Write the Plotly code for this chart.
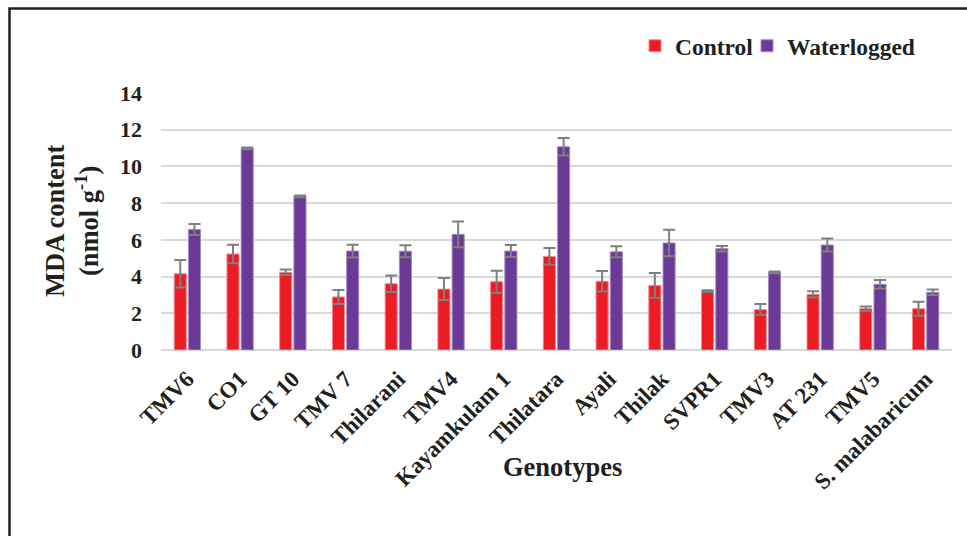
import plotly.graph_objects as go

# MDA content (nmol g-1) of sesame genotypes under control and waterlogged conditions
genotypes = ["TMV6", "CO1", "GT 10", "TMV 7", "Thilarani", "TMV4", "Kayamkulam 1",
             "Thilatara", "Ayali", "Thilak", "SVPR1", "TMV3", "AT 231", "TMV5",
             "S. malabaricum"]
control = [4.15, 5.23, 4.23, 2.89, 3.61, 3.32, 3.72, 5.10, 3.74, 3.52, 3.21, 2.20, 3.03, 2.25, 2.25]
control_err = [0.75, 0.50, 0.15, 0.38, 0.45, 0.60, 0.60, 0.45, 0.56, 0.67, 0.05, 0.30, 0.17, 0.12, 0.38]
waterlogged = [6.57, 10.98, 8.37, 5.39, 5.38, 6.30, 5.39, 11.07, 5.35, 5.83, 5.52, 4.23, 5.72, 3.58, 3.14]
waterlogged_err = [0.30, 0.05, 0.05, 0.35, 0.33, 0.70, 0.33, 0.48, 0.30, 0.72, 0.15, 0.05, 0.36, 0.23, 0.15]
y_ticks = [0, 2, 4, 6, 8, 10, 12, 14]

W, H = 967, 536
ML, MR, MT, MB = 161, 15, 93, 186
PW, PH = W - ML - MR, H - MT - MB


def px_x(px):
    return (px - ML) / PW


def px_y(py):
    return (H - MB - py) / PH


SERIF = "Liberation Serif, Times New Roman, serif"
INK = "#231F20"
ERR = "#7F7F7F"

fig = go.Figure()
fig.add_trace(go.Bar(
    name="Control", x=genotypes, y=control, legend="legend",
    marker=dict(color="#ED1C24", line=dict(color="#F58A8E", width=1)),
    error_y=dict(type="data", array=control_err, visible=True,
                 color=ERR, thickness=2, width=6),
))
fig.add_trace(go.Bar(
    name="Waterlogged", x=genotypes, y=waterlogged, legend="legend2",
    marker=dict(color="#6B3996", line=dict(color="#A68BC4", width=1)),
    error_y=dict(type="data", array=waterlogged_err, visible=True,
                 color=ERR, thickness=2, width=6),
))

legend_style = dict(orientation="h", xanchor="left", yanchor="middle",
                    font=dict(family=SERIF, size=23.5, weight=700, color=INK),
                    bgcolor="rgba(0,0,0,0)", itemwidth=30)

fig.update_layout(
    width=W, height=H,
    margin=dict(l=ML, r=MR, t=MT, b=MB),
    paper_bgcolor="white", plot_bgcolor="white",
    barmode="group", bargap=0.46, bargroupgap=0.15,
    font=dict(family=SERIF, color=INK, size=22, weight=700),
    legend=dict(x=px_x(635), y=px_y(46), **legend_style),
    legend2=dict(x=px_x(747), y=px_y(46), **legend_style),
    showlegend=True,
)

fig.update_xaxes(
    tickangle=-45, showgrid=False, showline=False, zeroline=False,
    tickfont=dict(family=SERIF, size=23, weight=700, color=INK),
    ticklabelstandoff=10,
)
fig.update_yaxes(
    range=[0, 14], tickvals=y_ticks, showgrid=True, gridcolor="#D9D9D9", gridwidth=1.8,
    zeroline=True, zerolinecolor="#D9D9D9", zerolinewidth=1.8, showline=False,
    tickfont=dict(family=SERIF, size=22, weight=700, color=INK),
    ticklabelstandoff=18,
)

# Axis titles
fig.add_annotation(
    text="MDA content<br>(nmol g<sup>-1</sup>)", textangle=-90,
    xref="paper", yref="paper", x=px_x(72), y=px_y(221),
    xanchor="center", yanchor="middle", showarrow=False,
    font=dict(family=SERIF, size=26.5, weight=700, color=INK),
)
fig.add_annotation(
    text="Genotypes", xref="paper", yref="paper", x=px_x(562), y=px_y(467),
    xanchor="center", yanchor="middle", showarrow=False,
    font=dict(family=SERIF, size=26.5, weight=700, color=INK),
)

# Chart frame
fig.add_shape(type="rect", xref="paper", yref="paper",
              x0=px_x(9.5), x1=px_x(990), y0=px_y(560), y1=px_y(8.5),
              line=dict(color=INK, width=2.5), fillcolor="rgba(0,0,0,0)", layer="above")

fig.write_html("out.html")
